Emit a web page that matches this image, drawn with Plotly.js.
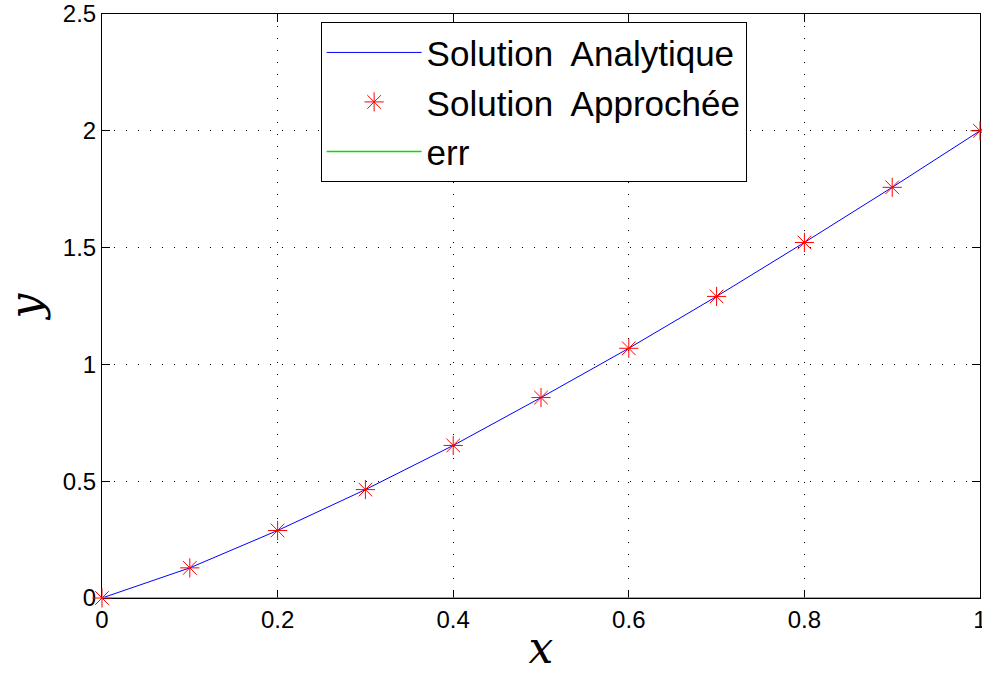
<!DOCTYPE html>
<html>
<head>
<meta charset="utf-8">
<script src="https://cdn.plot.ly/plotly-3.0.1.min.js"></script>
<style>html,body{margin:0;padding:0;background:#fff;}#chart{width:982px;height:673px;}</style>
</head>
<body>
<div id="chart"></div>
<script>
var xValues = [0, 0.1, 0.2, 0.3, 0.4, 0.5, 0.6, 0.7, 0.8, 0.9, 1.0];
var yAnalytic = [0, 0.129, 0.289, 0.464, 0.653, 0.858, 1.069, 1.291, 1.522, 1.758, 2.0];
var yApprox = [0, 0.129, 0.289, 0.464, 0.653, 0.858, 1.069, 1.291, 1.522, 1.758, 2.0];
var errValues = [0, 0, 0, 0, 0, 0, 0, 0, 0, 0, 0];
var xTicks = [0, 0.2, 0.4, 0.6, 0.8, 1];
var xTickLabels = ['0', '0.2', '0.4', '0.6', '0.8', '1'];
var yTicks = [0, 0.5, 1, 1.5, 2, 2.5];
var yTickLabels = ['0', '0.5', '1', '1.5', '2', '2.5'];
var seriesNames = ['Solution  Analytique', 'Solution  Approchée', 'err'];

var traces = [
  {x: xValues, y: yAnalytic, mode: 'lines', name: seriesNames[0], legendgroup: 'a',
   line: {color: '#0000ff', width: 1}},
  {x: xValues, y: yApprox, mode: 'markers', name: seriesNames[1], legendgroup: 'b',
   marker: {symbol: 'asterisk-open', color: '#ff0000', size: 16, line: {color: '#ff0000', width: 1}},
   cliponaxis: false},
  {x: xValues, y: errValues, mode: 'lines', name: seriesNames[2], legendgroup: 'c',
   line: {color: '#00e000', width: 1.5}, cliponaxis: false}
];

var axisCommon = {
  showline: true, linecolor: '#000', linewidth: 1, mirror: 'allticks',
  ticks: 'inside', ticklen: 8, tickcolor: '#000', tickwidth: 1,
  showgrid: true, gridcolor: '#000', gridwidth: 1, griddash: '1px,11px',
  zeroline: false, layer: 'below traces', ticklabeloverflow: 'allow',
  tickfont: {family: 'Liberation Sans, Arial, sans-serif', size: 24, color: '#000'}
};

var layout = {
  width: 982, height: 673,
  margin: {l: 102, r: 2, t: 14, b: 75},
  paper_bgcolor: '#fff', plot_bgcolor: '#fff',
  showlegend: true,
  legend: {
    x: 0.249, y: 0.986, xanchor: 'left', yanchor: 'top',
    bgcolor: '#fff', bordercolor: '#000', borderwidth: 1,
    font: {family: 'Liberation Sans, Arial, sans-serif', size: 35, color: '#000'},
    traceorder: 'grouped', tracegroupgap: 1, itemwidth: 95
  },
  xaxis: Object.assign({}, axisCommon, {
    range: [0, 1], tickvals: xTicks, ticktext: xTickLabels,
    title: {text: 'x', standoff: 5, font: {family: 'DejaVu Serif, serif', size: 44, color: '#000', style: 'italic'}}
  }),
  yaxis: Object.assign({}, axisCommon, {
    range: [0, 2.5], tickvals: yTicks, ticktext: yTickLabels,
    title: {text: 'y', standoff: 14, font: {family: 'DejaVu Serif, serif', size: 44, color: '#000', style: 'italic'}}
  })
};

Plotly.newPlot('chart', traces, layout, {displayModeBar: false, staticPlot: true});
</script>
</body>
</html>
